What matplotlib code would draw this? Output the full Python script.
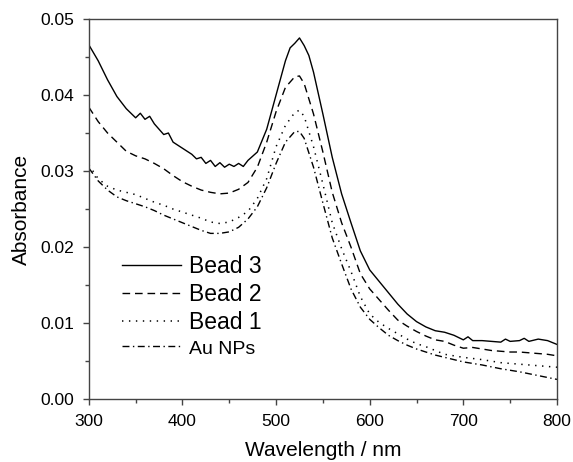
import matplotlib
matplotlib.use("Agg")
import matplotlib.pyplot as plt
from matplotlib.ticker import MultipleLocator, FormatStrFormatter

plt.rcParams["font.family"] = ["Liberation Sans", "DejaVu Sans"]
plt.rcParams["lines.scale_dashes"] = False

# ── data (wavelength nm, absorbance) ───────────────────────────────────────────
wl_bead3 = [300, 310, 320, 330, 340, 350, 355, 360, 365, 370, 380, 385, 390, 400,
            405, 410, 415, 420, 425, 430, 435, 440, 445, 450, 455, 460, 465, 470,
            480, 490, 500, 510, 515, 520, 525, 530, 535, 540, 550, 560, 570, 580,
            590, 600, 610, 620, 630, 640, 650, 660, 670, 680, 690, 700, 705, 710,
            720, 730, 740, 745, 750, 760, 765, 770, 780, 790, 800]
abs_bead3 = [0.0466, 0.0445, 0.0420, 0.0398, 0.0382, 0.0370, 0.0376, 0.0368, 0.0372,
             0.0362, 0.0348, 0.0350, 0.0338, 0.0330, 0.0326, 0.0322, 0.0316, 0.0318,
             0.0310, 0.0314, 0.0306, 0.0311, 0.0305, 0.0309, 0.0306, 0.0310, 0.0306,
             0.0314, 0.0325, 0.0355, 0.0400, 0.0445, 0.0462, 0.0468, 0.0475, 0.0465,
             0.0452, 0.0430, 0.0375, 0.0318, 0.0270, 0.0232, 0.0195, 0.0170, 0.0155,
             0.0140, 0.0125, 0.0112, 0.0102, 0.0095, 0.0090, 0.0088, 0.0084, 0.0078,
             0.0082, 0.0077, 0.0077, 0.0076, 0.0075, 0.0079, 0.0076, 0.0077, 0.0080,
             0.0076, 0.0079, 0.0077, 0.0072]

wl_bead2 = [300, 310, 320, 330, 340, 350, 360, 370, 380, 390, 400, 410, 420, 430,
            440, 450, 460, 470, 480, 490, 500, 510, 520, 525, 530, 540, 550, 560,
            570, 580, 590, 600, 610, 620, 630, 640, 650, 660, 670, 680, 690, 700,
            710, 720, 730, 740, 750, 760, 770, 780, 790, 800]
abs_bead2 = [0.0384, 0.0365, 0.0350, 0.0338, 0.0326, 0.0320, 0.0316, 0.0310, 0.0303,
             0.0294, 0.0286, 0.0280, 0.0275, 0.0272, 0.0270, 0.0271, 0.0276, 0.0285,
             0.0305, 0.0338, 0.0378, 0.0410, 0.0424, 0.0425, 0.0415, 0.0375, 0.0325,
             0.0272, 0.0232, 0.0200, 0.0165, 0.0145, 0.0131, 0.0117, 0.0104, 0.0096,
             0.0089, 0.0083, 0.0078, 0.0076, 0.0071, 0.0067, 0.0068, 0.0066, 0.0064,
             0.0063, 0.0062, 0.0062, 0.0061, 0.0060, 0.0059, 0.0057]

wl_bead1 = [300, 310, 320, 330, 340, 350, 360, 370, 380, 390, 400, 410, 420, 430,
            440, 450, 460, 470, 480, 490, 500, 510, 520, 525, 530, 540, 550, 560,
            570, 580, 590, 600, 610, 620, 630, 640, 650, 660, 670, 680, 690, 700,
            720, 740, 760, 780, 800]
abs_bead1 = [0.0308, 0.0290, 0.0280, 0.0275, 0.0272, 0.0269, 0.0264, 0.0259, 0.0255,
             0.0250, 0.0246, 0.0242, 0.0238, 0.0233, 0.0231, 0.0233, 0.0239, 0.0247,
             0.0264, 0.0290, 0.0332, 0.0360, 0.0377, 0.0380, 0.0372, 0.0332, 0.0283,
             0.0232, 0.0198, 0.0168, 0.0135, 0.0112, 0.0101, 0.0093, 0.0086, 0.0079,
             0.0073, 0.0069, 0.0064, 0.0059, 0.0057, 0.0055, 0.0052, 0.0048, 0.0046,
             0.0044, 0.0042]

wl_au = [300, 310, 320, 330, 340, 350, 360, 370, 380, 390, 400, 410, 420, 430,
         440, 450, 460, 470, 480, 490, 500, 510, 520, 525, 530, 540, 550, 560,
         570, 580, 590, 600, 610, 620, 630, 640, 650, 660, 670, 680, 690, 700,
         720, 740, 760, 780, 800]
abs_au = [0.0304, 0.0287, 0.0275, 0.0266, 0.0261, 0.0257, 0.0253, 0.0248, 0.0242,
          0.0237, 0.0232, 0.0227, 0.0222, 0.0218, 0.0218, 0.0220, 0.0226, 0.0237,
          0.0253, 0.0278, 0.0310, 0.0338, 0.0352, 0.0352, 0.0343, 0.0305, 0.0258,
          0.0212, 0.0178, 0.0145, 0.0121, 0.0105, 0.0094, 0.0084, 0.0077, 0.0071,
          0.0066, 0.0062, 0.0058, 0.0055, 0.0052, 0.0049, 0.0045, 0.0040, 0.0036,
          0.0031, 0.0026]

# ── figure ───────────────────────────────────────────────────────────────────
fig = plt.figure(figsize=(5.73, 4.62), dpi=100)
ax = fig.add_axes([0.155, 0.136, 0.817, 0.823])

ax.plot(wl_bead3, abs_bead3, color="black", lw=1.0, ls="-", label="Bead 3")
ax.plot(wl_bead2, abs_bead2, color="black", lw=1.0, ls=(0, (5.5, 3.5)), label="Bead 2")
ax.plot(wl_bead1, abs_bead1, color="black", lw=1.1, ls=(0, (1.0, 4.0)), label="Bead 1")
ax.plot(wl_au, abs_au, color="black", lw=1.0, ls=(0, (5, 2.5, 1, 2.5)), label="Au NPs")

ax.set_xlim(300, 800)
ax.set_ylim(0, 0.05)
ax.xaxis.set_major_locator(MultipleLocator(100))
ax.xaxis.set_minor_locator(MultipleLocator(50))
ax.yaxis.set_major_locator(MultipleLocator(0.01))
ax.yaxis.set_minor_locator(MultipleLocator(0.005))
ax.yaxis.set_major_formatter(FormatStrFormatter("%.2f"))

for s in ax.spines.values():
    s.set_color("#444444")
    s.set_linewidth(1.0)
ax.tick_params(which="both", direction="out", color="#444444", width=1.0)
ax.tick_params(which="major", length=4.5, labelsize=12.5)
ax.tick_params(axis="y", which="major", pad=6)
ax.tick_params(axis="x", which="major", pad=6)
ax.tick_params(which="minor", length=3)

ax.set_xlabel("Wavelength / nm", fontsize=15, labelpad=9)
ax.set_ylabel("Absorbance", fontsize=15, labelpad=7)

leg = ax.legend(loc="upper left", bbox_to_anchor=(0.046, 0.408), frameon=False,
                fontsize=16.5, handlelength=2.6, handletextpad=0.35,
                labelspacing=0.2, borderpad=0)
leg.get_texts()[3].set_fontsize(14)

fig.savefig("out.png", dpi=100)
